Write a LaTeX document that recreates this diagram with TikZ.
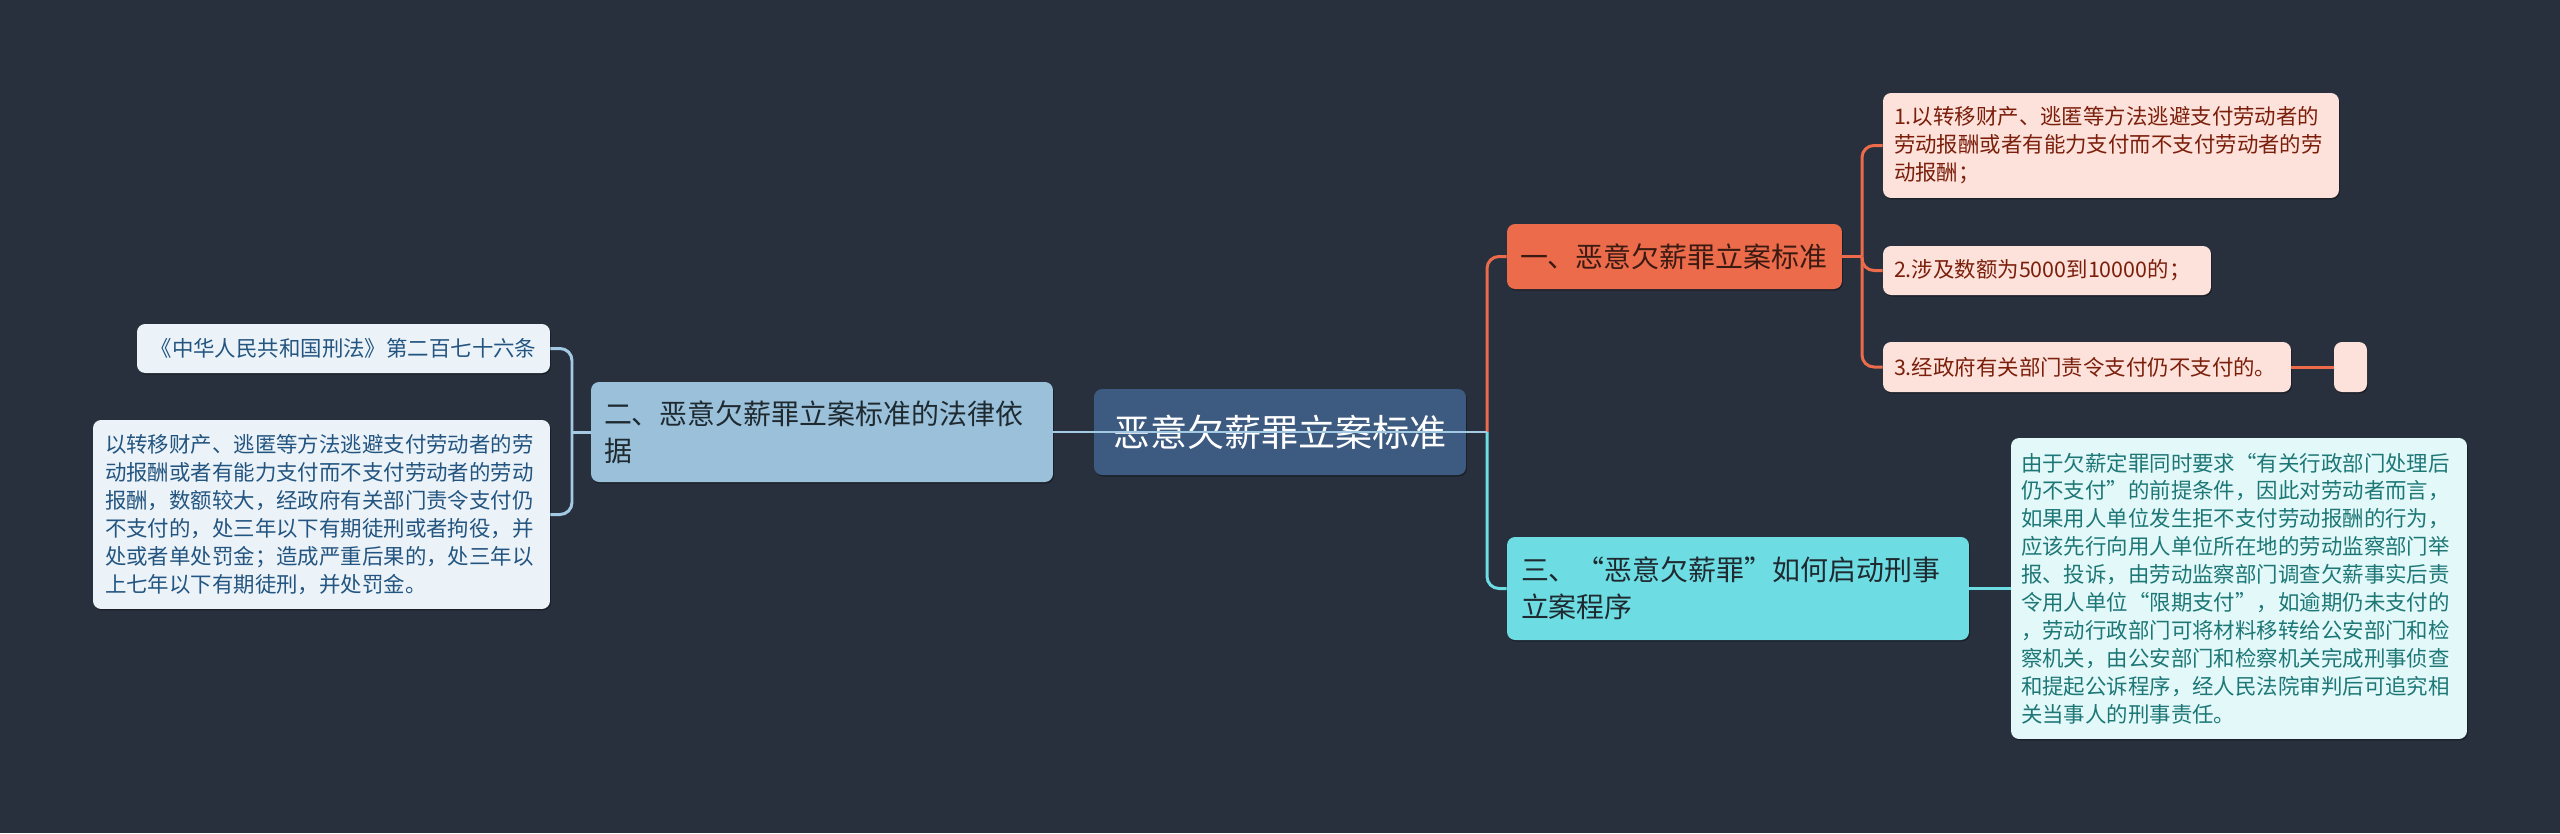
\documentclass[tikz,border=0pt]{standalone}
\usepackage{fontspec}
\setmainfont{Noto Sans CJK SC}
\usetikzlibrary{shadows}
\definecolor{bg}{HTML}{28303E}
\definecolor{rootfill}{HTML}{3D5A80}
\definecolor{bluefill}{HTML}{9AC0DA}
\definecolor{paleblue}{HTML}{EBF3F9}
\definecolor{bluetext}{HTML}{245580}
\definecolor{orangefill}{HTML}{EB6B4B}
\definecolor{orangetext}{HTML}{3B1A12}
\definecolor{peach}{HTML}{FCE2DA}
\definecolor{redtext}{HTML}{7B1F0C}
\definecolor{cyanfill}{HTML}{6DDDE3}
\definecolor{darktext}{HTML}{1E2A30}
\definecolor{palecyan}{HTML}{E3F8F8}
\definecolor{tealtext}{HTML}{1E7777}
\definecolor{bline}{HTML}{A4C9E2}
\definecolor{oline}{HTML}{EB6B4B}
\definecolor{cline}{HTML}{6DDDE3}
\tikzset{
  box/.style={rounded corners=0.16cm, inner ysep=0pt, align=left,
    drop shadow={shadow xshift=0.02cm, shadow yshift=-0.03cm, opacity=0.35, fill=black}},
  small/.style={font=\fontsize{12.2pt}{15.9pt}\selectfont},
  big/.style={font=\fontsize{15.9pt}{21.3pt}\selectfont},
  conn/.style={line width=1.7pt, rounded corners=0.24cm},
}
\begin{document}
\begin{tikzpicture}[x=0.02cm,y=-0.02cm]
\fill[bg] (0,0) rectangle (2560,833);
\useasboundingbox (0,0) rectangle (2560,833);

% nodes
\node[box, fill=rootfill, text=white, align=center, minimum width=7.44cm, minimum height=1.72cm,
  font=\fontsize{21.1pt}{25pt}\selectfont] (root) at (1280,432) {恶意欠薪罪立案标准};

\node[box, big, fill=bluefill, text=darktext, minimum width=9.24cm, minimum height=2.0cm,
  inner xsep=0.26cm, text width=8.72cm] (n2) at (822,432)
  {二、恶意欠薪罪立案标准的法律依\\据};

\node[box, small, fill=paleblue, text=bluetext, align=center, minimum width=8.26cm, minimum height=0.98cm,
  inner xsep=0.2cm, text width=7.86cm] (l1) at (343.5,348.5)
  {《中华人民共和国刑法》第二百七十六条};

\node[box, small, fill=paleblue, text=bluetext, minimum width=9.14cm, minimum height=3.78cm,
  inner xsep=0.24cm, text width=8.66cm] (l2) at (321.5,514.5)
  {以转移财产、逃匿等方法逃避支付劳动者的劳\\
   动报酬或者有能力支付而不支付劳动者的劳动\\
   报酬，数额较大，经政府有关部门责令支付仍\\
   不支付的，处三年以下有期徒刑或者拘役，并\\
   处或者单处罚金；造成严重后果的，处三年以\\
   上七年以下有期徒刑，并处罚金。};

\node[box, big, fill=orangefill, text=orangetext, minimum width=6.7cm, minimum height=1.3cm,
  inner xsep=0.26cm, text width=6.18cm] (b1) at (1674.5,256.5)
  {一、恶意欠薪罪立案标准};

\node[box, small, fill=peach, text=redtext, minimum width=9.12cm, minimum height=2.1cm,
  inner xsep=0.22cm, text width=8.68cm] (c1) at (2111,145.5)
  {1.以转移财产、逃匿等方法逃避支付劳动者的\\
   劳动报酬或者有能力支付而不支付劳动者的劳\\
   动报酬；};

\node[box, small, fill=peach, text=redtext, minimum width=6.56cm, minimum height=0.98cm,
  inner xsep=0.22cm, text width=6.12cm] (c2) at (2047,270.5)
  {2.涉及数额为5000到10000的；};

\node[box, small, fill=peach, text=redtext, minimum width=8.16cm, minimum height=1.0cm,
  inner xsep=0.22cm, text width=7.72cm] (c3) at (2087,367)
  {3.经政府有关部门责令支付仍不支付的。};

\node[box, fill=peach, minimum width=0.66cm, minimum height=1.0cm, inner xsep=0pt] (c4) at (2350.5,367) {};

\node[box, big, fill=cyanfill, text=darktext, minimum width=9.24cm, minimum height=2.06cm,
  inner xsep=0.28cm, text width=8.68cm] (b3) at (1738,588.5)
  {三、“恶意欠薪罪”如何启动刑事\\立案程序};

\node[box, small, fill=palecyan, text=tealtext, minimum width=9.12cm, minimum height=6.02cm,
  inner xsep=0.2cm, text width=8.72cm] (d1) at (2239,588.5)
  {由于欠薪定罪同时要求“有关行政部门处理后\\
   仍不支付”的前提条件，因此对劳动者而言，\\
   如果用人单位发生拒不支付劳动报酬的行为，\\
   应该先行向用人单位所在地的劳动监察部门举\\
   报、投诉，由劳动监察部门调查欠薪事实后责\\
   令用人单位“限期支付”，如逾期仍未支付的\\
   ，劳动行政部门可将材料移转给公安部门和检\\
   察机关，由公安部门和检察机关完成刑事侦查\\
   和提起公诉程序，经人民法院审判后可追究相\\
   关当事人的刑事责任。};

% junctions
\coordinate (jr) at (1487,432);
\coordinate (jl) at (572,432);
\coordinate (j1) at (1862,256.5);

% connectors
\draw[conn, oline] (jr) |- (b1.west);
\draw[conn, cline] (jr) |- (b3.west);
\draw[line width=1.3pt, bline] (n2.east) -- (jr);
\draw[conn, bline] (n2.west) -- (jl);
\draw[conn, bline] (jl) |- (l1.east);
\draw[conn, bline] (jl) |- (l2.east);
\draw[conn, oline] (b1.east) -- (j1);
\draw[conn, oline] (j1) |- (c1.west);
\draw[conn, oline] (j1) |- (c2.west);
\draw[conn, oline] (j1) |- (c3.west);
\draw[conn, oline] (c3.east) -- (c4.west);
\draw[conn, cline] (b3.east) -- (d1.west);
\end{tikzpicture}
\end{document}
